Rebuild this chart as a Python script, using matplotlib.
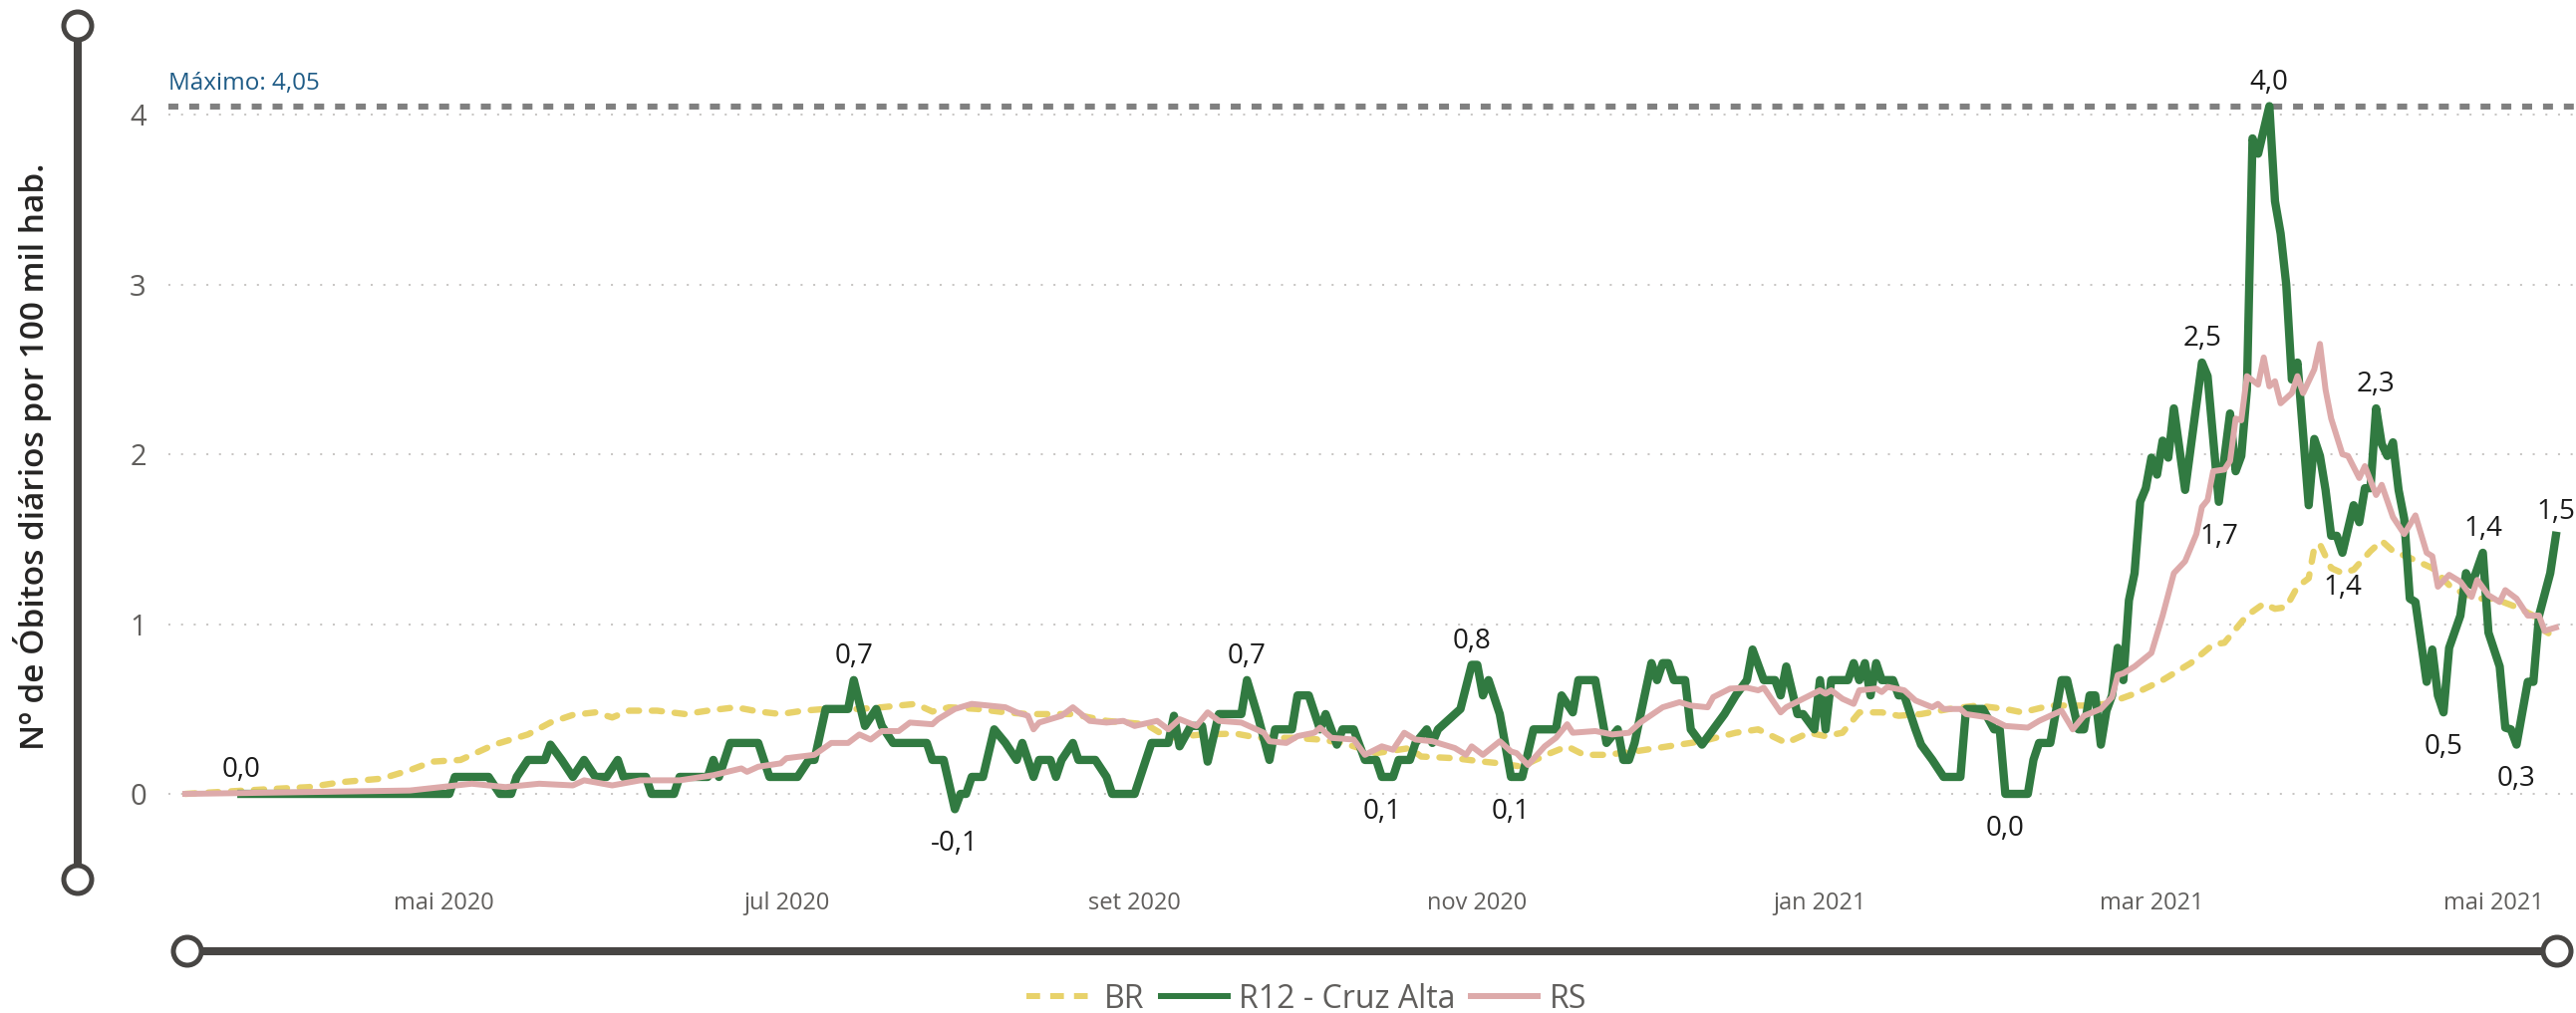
import matplotlib
matplotlib.use("Agg")
import matplotlib.pyplot as plt
import matplotlib.transforms as mtransforms
from matplotlib.patches import Circle
from matplotlib.lines import Line2D
import pandas as pd

plt.rcParams['font.family'] = ['Open Sans', 'DejaVu Sans']

# ---- data ----
tick_dates = ["2020-05-01", "2020-07-01", "2020-09-01", "2020-11-01",
              "2021-01-01", "2021-03-01", "2021-05-01"]
tick_labels = ["mai 2020", "jul 2020", "set 2020", "nov 2020",
               "jan 2021", "mar 2021", "mai 2021"]
y_ticks = [0, 1, 2, 3, 4]

br_dates = [
    "2020-03-16", "2020-04-01", "2020-04-07", "2020-04-13", "2020-04-20", "2020-04-25",
    "2020-04-29", "2020-05-04", "2020-05-10", "2020-05-16", "2020-05-20", "2020-05-24",
    "2020-05-28", "2020-05-31", "2020-06-03", "2020-06-08", "2020-06-13", "2020-06-17",
    "2020-06-22", "2020-06-26", "2020-06-30", "2020-07-04", "2020-07-08", "2020-07-14",
    "2020-07-18", "2020-07-24", "2020-07-27", "2020-07-30", "2020-08-04", "2020-08-09",
    "2020-08-13", "2020-08-21", "2020-08-27", "2020-09-03", "2020-09-07", "2020-09-13",
    "2020-09-19", "2020-09-23", "2020-09-29", "2020-10-04", "2020-10-08", "2020-10-14",
    "2020-10-20", "2020-10-22", "2020-10-28", "2020-11-02", "2020-11-05", "2020-11-09",
    "2020-11-11", "2020-11-14", "2020-11-17", "2020-11-20", "2020-11-24", "2020-11-29",
    "2020-12-05", "2020-12-11", "2020-12-17", "2020-12-21", "2020-12-26", "2020-12-30",
    "2021-01-02", "2021-01-05", "2021-01-08", "2021-01-12", "2021-01-15", "2021-01-19",
    "2021-01-24", "2021-01-29", "2021-02-03", "2021-02-06", "2021-02-11", "2021-02-17",
    "2021-02-21", "2021-02-26", "2021-03-03", "2021-03-08", "2021-03-12", "2021-03-14",
    "2021-03-18", "2021-03-21", "2021-03-23", "2021-03-25", "2021-03-27", "2021-03-29",
    "2021-03-30", "2021-03-31", "2021-04-02", "2021-04-04", "2021-04-06", "2021-04-09",
    "2021-04-11", "2021-04-13", "2021-04-16", "2021-04-20", "2021-04-23", "2021-04-25",
    "2021-04-28", "2021-05-01", "2021-05-05", "2021-05-08", "2021-05-10", "2021-05-12"]
br_vals = [
    0.0, 0.03, 0.04, 0.07, 0.09, 0.14,
    0.19, 0.20, 0.29, 0.35, 0.42, 0.465,
    0.48, 0.45, 0.49, 0.49, 0.47, 0.49,
    0.51, 0.485, 0.47, 0.49, 0.50, 0.50,
    0.51, 0.53, 0.485, 0.51, 0.50, 0.48,
    0.47, 0.47, 0.43, 0.41, 0.33, 0.35,
    0.355, 0.33, 0.33, 0.32, 0.30, 0.24,
    0.27, 0.22, 0.21, 0.19, 0.18, 0.16,
    0.195, 0.24, 0.28, 0.23, 0.23, 0.25,
    0.28, 0.31, 0.36, 0.38, 0.30, 0.36,
    0.34, 0.36, 0.48, 0.48, 0.46, 0.47,
    0.50, 0.52, 0.50, 0.48, 0.52, 0.52,
    0.53, 0.59, 0.67, 0.77, 0.88, 0.89,
    1.05, 1.12, 1.09, 1.10, 1.22, 1.27,
    1.45, 1.47, 1.33, 1.30, 1.32, 1.43,
    1.49, 1.43, 1.39, 1.33, 1.23, 1.19,
    1.15, 1.15, 1.10, 1.05, 0.96, 0.92]

r12_dates = [
    "2020-03-26", "2020-05-02", "2020-05-03", "2020-05-09", "2020-05-11", "2020-05-13",
    "2020-05-14", "2020-05-16", "2020-05-19", "2020-05-20", "2020-05-22", "2020-05-24",
    "2020-05-26", "2020-05-28", "2020-05-30", "2020-06-01", "2020-06-02", "2020-06-06",
    "2020-06-07", "2020-06-11", "2020-06-12", "2020-06-17", "2020-06-18", "2020-06-19",
    "2020-06-20", "2020-06-21", "2020-06-26", "2020-06-27", "2020-06-28", "2020-07-03",
    "2020-07-05", "2020-07-06", "2020-07-08", "2020-07-12", "2020-07-13", "2020-07-15",
    "2020-07-17", "2020-07-18", "2020-07-20", "2020-07-26", "2020-07-27", "2020-07-29",
    "2020-07-31", "2020-08-01", "2020-08-02", "2020-08-03", "2020-08-05", "2020-08-07",
    "2020-08-09", "2020-08-11", "2020-08-12", "2020-08-14", "2020-08-15", "2020-08-17",
    "2020-08-18", "2020-08-19", "2020-08-21", "2020-08-22", "2020-08-25", "2020-08-27",
    "2020-08-28", "2020-09-01", "2020-09-03", "2020-09-04", "2020-09-07", "2020-09-08",
    "2020-09-09", "2020-09-11", "2020-09-13", "2020-09-14", "2020-09-16", "2020-09-20",
    "2020-09-21", "2020-09-23", "2020-09-25", "2020-09-26", "2020-09-29", "2020-09-30",
    "2020-10-02", "2020-10-04", "2020-10-05", "2020-10-07", "2020-10-08", "2020-10-10",
    "2020-10-12", "2020-10-14", "2020-10-15", "2020-10-17", "2020-10-18", "2020-10-20",
    "2020-10-21", "2020-10-23", "2020-10-24", "2020-10-25", "2020-10-28", "2020-10-29",
    "2020-10-31", "2020-11-01", "2020-11-02", "2020-11-03", "2020-11-05", "2020-11-07",
    "2020-11-09", "2020-11-11", "2020-11-15", "2020-11-16", "2020-11-18", "2020-11-19",
    "2020-11-22", "2020-11-24", "2020-11-26", "2020-11-27", "2020-11-28", "2020-11-29",
    "2020-12-02", "2020-12-03", "2020-12-04", "2020-12-05", "2020-12-06", "2020-12-08",
    "2020-12-09", "2020-12-11", "2020-12-13", "2020-12-15", "2020-12-17", "2020-12-19",
    "2020-12-20", "2020-12-22", "2020-12-24", "2020-12-25", "2020-12-26", "2020-12-28",
    "2020-12-29", "2020-12-31", "2021-01-01", "2021-01-02", "2021-01-03", "2021-01-06",
    "2021-01-07", "2021-01-08", "2021-01-09", "2021-01-10", "2021-01-11", "2021-01-12",
    "2021-01-14", "2021-01-15", "2021-01-16", "2021-01-18", "2021-01-19", "2021-01-21",
    "2021-01-23", "2021-01-26", "2021-01-27", "2021-01-30", "2021-02-01", "2021-02-02",
    "2021-02-03", "2021-02-07", "2021-02-08", "2021-02-09", "2021-02-11", "2021-02-13",
    "2021-02-14", "2021-02-16", "2021-02-17", "2021-02-18", "2021-02-19", "2021-02-20",
    "2021-02-21", "2021-02-22", "2021-02-23", "2021-02-24", "2021-02-25", "2021-02-26",
    "2021-02-27", "2021-02-28", "2021-03-01", "2021-03-02", "2021-03-03", "2021-03-04",
    "2021-03-05", "2021-03-07", "2021-03-10", "2021-03-11", "2021-03-13", "2021-03-15",
    "2021-03-16", "2021-03-17", "2021-03-18", "2021-03-19", "2021-03-20", "2021-03-22",
    "2021-03-23", "2021-03-24", "2021-03-25", "2021-03-26", "2021-03-27", "2021-03-29",
    "2021-03-30", "2021-03-31", "2021-04-01", "2021-04-02", "2021-04-03", "2021-04-04",
    "2021-04-06", "2021-04-07", "2021-04-08", "2021-04-09", "2021-04-10", "2021-04-11",
    "2021-04-12", "2021-04-13", "2021-04-14", "2021-04-15", "2021-04-16", "2021-04-17",
    "2021-04-19", "2021-04-20", "2021-04-21", "2021-04-22", "2021-04-23", "2021-04-25",
    "2021-04-26", "2021-04-27", "2021-04-29", "2021-04-30", "2021-05-02", "2021-05-03",
    "2021-05-04", "2021-05-05", "2021-05-07", "2021-05-08", "2021-05-09", "2021-05-11",
    "2021-05-12"]
r12_vals = [
    0.0, 0.0, 0.1, 0.1, 0.0, 0.0,
    0.1, 0.2, 0.2, 0.29, 0.2, 0.1,
    0.2, 0.1, 0.1, 0.2, 0.1, 0.1,
    0.0, 0.0, 0.1, 0.1, 0.2, 0.1,
    0.2, 0.3, 0.3, 0.2, 0.1, 0.1,
    0.2, 0.2, 0.5, 0.5, 0.67, 0.4,
    0.5, 0.4, 0.3, 0.3, 0.2, 0.2,
    -0.09, 0.0, 0.0, 0.1, 0.1, 0.38,
    0.3, 0.2, 0.3, 0.1, 0.2, 0.2,
    0.1, 0.2, 0.3, 0.2, 0.2, 0.1,
    0.0, 0.0, 0.2, 0.3, 0.3, 0.46,
    0.28, 0.4, 0.4, 0.19, 0.47, 0.47,
    0.67, 0.45, 0.2, 0.38, 0.38, 0.58,
    0.58, 0.38, 0.47, 0.29, 0.38, 0.38,
    0.2, 0.2, 0.1, 0.1, 0.2, 0.2,
    0.3, 0.38, 0.3, 0.38, 0.47, 0.5,
    0.76, 0.76, 0.58, 0.67, 0.47, 0.1,
    0.1, 0.38, 0.38, 0.58, 0.48, 0.67,
    0.67, 0.3, 0.38, 0.2, 0.2, 0.3,
    0.77, 0.67, 0.77, 0.77, 0.67, 0.67,
    0.38, 0.29, 0.38, 0.47, 0.58, 0.67,
    0.85, 0.67, 0.67, 0.58, 0.75, 0.47,
    0.47, 0.38, 0.67, 0.38, 0.67, 0.67,
    0.77, 0.67, 0.77, 0.58, 0.77, 0.67,
    0.67, 0.58, 0.58, 0.38, 0.29, 0.2,
    0.1, 0.1, 0.5, 0.5, 0.38, 0.38,
    0.0, 0.0, 0.2, 0.3, 0.3, 0.67,
    0.67, 0.38, 0.38, 0.58, 0.58, 0.29,
    0.49, 0.58, 0.86, 0.67, 1.14, 1.30,
    1.72, 1.80, 1.98, 1.88, 2.08, 1.98,
    2.27, 1.79, 2.54, 2.46, 1.72, 2.24,
    1.90, 1.99, 2.38, 3.86, 3.77, 4.05,
    3.49, 3.30, 3.00, 2.44, 2.54, 1.70,
    2.09, 1.99, 1.79, 1.52, 1.52, 1.42,
    1.70, 1.60, 1.80, 1.80, 2.27, 2.06,
    1.99, 2.07, 1.79, 1.62, 1.15, 1.13,
    0.66, 0.85, 0.58, 0.48, 0.86, 1.05,
    1.30, 1.23, 1.42, 0.95, 0.75, 0.39,
    0.38, 0.29, 0.66, 0.66, 1.05, 1.30,
    1.52]

rs_dates = [
    "2020-03-16", "2020-04-25", "2020-05-06", "2020-05-12", "2020-05-18", "2020-05-24",
    "2020-05-26", "2020-05-31", "2020-06-05", "2020-06-12", "2020-06-18", "2020-06-23",
    "2020-06-24", "2020-06-26", "2020-06-30", "2020-07-01", "2020-07-06", "2020-07-09",
    "2020-07-12", "2020-07-14", "2020-07-16", "2020-07-18", "2020-07-21", "2020-07-23",
    "2020-07-27", "2020-07-28", "2020-07-31", "2020-08-03", "2020-08-06", "2020-08-09",
    "2020-08-11", "2020-08-13", "2020-08-14", "2020-08-15", "2020-08-19", "2020-08-21",
    "2020-08-24", "2020-08-27", "2020-08-30", "2020-09-01", "2020-09-05", "2020-09-07",
    "2020-09-09", "2020-09-12", "2020-09-14", "2020-09-16", "2020-09-20", "2020-09-24",
    "2020-09-25", "2020-09-28", "2020-09-30", "2020-10-03", "2020-10-04", "2020-10-06",
    "2020-10-10", "2020-10-12", "2020-10-15", "2020-10-17", "2020-10-19", "2020-10-21",
    "2020-10-24", "2020-10-28", "2020-10-30", "2020-10-31", "2020-11-02", "2020-11-05",
    "2020-11-07", "2020-11-08", "2020-11-10", "2020-11-13", "2020-11-15", "2020-11-17",
    "2020-11-18", "2020-11-22", "2020-11-25", "2020-11-28", "2020-11-30", "2020-12-04",
    "2020-12-07", "2020-12-09", "2020-12-12", "2020-12-13", "2020-12-16", "2020-12-19",
    "2020-12-21", "2020-12-22", "2020-12-25", "2020-12-26", "2020-12-29", "2021-01-01",
    "2021-01-02", "2021-01-03", "2021-01-05", "2021-01-07", "2021-01-08", "2021-01-11",
    "2021-01-12", "2021-01-13", "2021-01-16", "2021-01-18", "2021-01-21", "2021-01-22",
    "2021-01-23", "2021-01-26", "2021-01-27", "2021-01-31", "2021-02-03", "2021-02-07",
    "2021-02-09", "2021-02-11", "2021-02-13", "2021-02-15", "2021-02-17", "2021-02-20",
    "2021-02-22", "2021-02-23", "2021-02-24", "2021-02-26", "2021-03-01", "2021-03-03",
    "2021-03-05", "2021-03-07", "2021-03-09", "2021-03-10", "2021-03-11", "2021-03-12",
    "2021-03-14", "2021-03-15", "2021-03-16", "2021-03-17", "2021-03-18", "2021-03-20",
    "2021-03-21", "2021-03-22", "2021-03-23", "2021-03-24", "2021-03-26", "2021-03-27",
    "2021-03-28", "2021-03-30", "2021-03-31", "2021-04-01", "2021-04-02", "2021-04-04",
    "2021-04-05", "2021-04-07", "2021-04-08", "2021-04-10", "2021-04-11", "2021-04-13",
    "2021-04-15", "2021-04-17", "2021-04-19", "2021-04-20", "2021-04-21", "2021-04-23",
    "2021-04-25", "2021-04-27", "2021-04-28", "2021-04-30", "2021-05-02", "2021-05-03",
    "2021-05-05", "2021-05-07", "2021-05-09", "2021-05-10", "2021-05-12"]
rs_vals = [
    0.0, 0.02, 0.06, 0.04, 0.06, 0.05,
    0.08, 0.05, 0.08, 0.08, 0.11, 0.15,
    0.13, 0.16, 0.18, 0.21, 0.23, 0.30,
    0.30, 0.35, 0.32, 0.37, 0.37, 0.42,
    0.41, 0.44, 0.50, 0.53, 0.52, 0.51,
    0.48, 0.46, 0.38, 0.42, 0.46, 0.51,
    0.43, 0.42, 0.43, 0.40, 0.43, 0.38,
    0.44, 0.40, 0.48, 0.43, 0.42, 0.36,
    0.31, 0.30, 0.34, 0.36, 0.39, 0.33,
    0.32, 0.23, 0.28, 0.26, 0.36, 0.32,
    0.31, 0.27, 0.23, 0.28, 0.23, 0.31,
    0.25, 0.24, 0.17, 0.28, 0.33, 0.41,
    0.36, 0.37, 0.35, 0.36, 0.42, 0.51,
    0.54, 0.52, 0.51, 0.57, 0.62, 0.625,
    0.61, 0.625, 0.48, 0.51, 0.56, 0.61,
    0.59, 0.61, 0.56, 0.53, 0.61, 0.62,
    0.60, 0.63, 0.61, 0.55, 0.51, 0.53,
    0.50, 0.50, 0.47, 0.45, 0.40, 0.39,
    0.43, 0.46, 0.49, 0.38, 0.46, 0.50,
    0.57, 0.70, 0.71, 0.75, 0.83, 1.05,
    1.30, 1.37, 1.53, 1.69, 1.73, 1.90,
    1.91, 1.96, 2.21, 2.20, 2.46, 2.41,
    2.57, 2.40, 2.43, 2.30, 2.36, 2.46,
    2.36, 2.50, 2.65, 2.38, 2.21, 2.00,
    1.99, 1.86, 1.93, 1.76, 1.82, 1.63,
    1.53, 1.64, 1.42, 1.40, 1.22, 1.29,
    1.25, 1.16, 1.26, 1.17, 1.13, 1.20,
    1.15, 1.05, 1.05, 0.96, 0.98]

# data labels shown on the R12 line (a = above, b = below)
label_dates = ["2020-03-26", "2020-07-13", "2020-07-31", "2020-09-21", "2020-10-15",
               "2020-10-31", "2020-11-07", "2021-02-03", "2021-03-10", "2021-03-13",
               "2021-03-22", "2021-04-04", "2021-04-10", "2021-04-22", "2021-04-29",
               "2021-05-05", "2021-05-12"]
label_pos = ["a", "a", "b", "a", "b",
             "a", "b", "b", "a", "b",
             "a", "b", "a", "b", "a",
             "b", "a"]

series_names = ["BR", "R12 - Cruz Alta", "RS"]

BR_COLOR = "#E8D26A"
R12_COLOR = "#317A41"
RS_COLOR = "#DDAAAA"
SLIDER = "#474543"
GRAY_TXT = "#605E5C"

W, H = 2585, 1017
fig = plt.figure(figsize=(W / 100, H / 100), dpi=100)
ax = fig.add_axes([169 / W, 147 / H, (W - 169) / W, 810 / H])
ax.patch.set_alpha(0)

br_x = pd.to_datetime(br_dates)
r12_x = pd.to_datetime(r12_dates)
rs_x = pd.to_datetime(rs_dates)

ax.plot(br_x, br_vals, color=BR_COLOR, lw=4.6, dashes=(1.6, 2.0),
        dash_capstyle="round", zorder=2)
ax.plot(r12_x, r12_vals, color=R12_COLOR, lw=6.0, zorder=3)
ax.plot(rs_x, rs_vals, color=RS_COLOR, lw=4.3, zorder=4)

# max reference line
max_val = max(r12_vals)
ax.axhline(max_val, color="#808080", lw=4.3, linestyle=(0, (1.67, 1.83)), zorder=1.5)
trans = mtransforms.blended_transform_factory(ax.transAxes, ax.transData)
ax.annotate(f"Máximo: {max_val:.2f}".replace(".", ","), xy=(0, max_val), xycoords=trans,
            xytext=(0, 12), textcoords="offset points", ha="left", va="baseline",
            fontsize=17.5, color="#1E5B86")

# data labels
lookup = dict(zip(r12_dates, r12_vals))
for d, p in zip(label_dates, label_pos):
    v = lookup[d]
    off = 17 if p == "a" else -25
    ax.annotate(f"{v:.1f}".replace(".", ","), xy=(pd.Timestamp(d), v),
                xytext=(0, off), textcoords="offset points", ha="center", va="center",
                fontsize=20, color="#1A1A1A", zorder=6, annotation_clip=False)

ax.set_xlim(pd.Timestamp("2020-03-13"), pd.Timestamp("2021-05-15 14:00"))
ax.set_ylim(-0.428, 4.323)
ax.set_xticks(pd.to_datetime(tick_dates))
ax.set_xticklabels(tick_labels)
ax.set_yticks(y_ticks)
ax.set_yticklabels([str(t) for t in y_ticks])
ax.tick_params(axis="x", length=0, pad=18, labelsize=17, labelcolor=GRAY_TXT)
ax.tick_params(axis="y", length=0, pad=16, labelsize=21, labelcolor=GRAY_TXT)
ax.yaxis.grid(True, linestyle=(0, (1, 5.3)), lw=1.45, color="#C8C6C4")
ax.xaxis.grid(False)
ax.set_axisbelow(True)
for s in ax.spines.values():
    s.set_visible(False)

# y axis title
fig.text(33 / W, 1 - 458 / H, "Nº de Óbitos diários por 100 mil hab.", rotation=90,
         ha="center", va="center", fontsize=24, fontweight="semibold", color="#252423")

# slider decorations (pixel overlay)
ov = fig.add_axes([0, 0, 1, 1])
ov.set_xlim(0, W)
ov.set_ylim(H, 0)
ov.axis("off")
ov.patch.set_alpha(0)
ov.plot([78, 78], [26, 883], color=SLIDER, lw=5.8, solid_capstyle="butt", zorder=1)
ov.plot([188, 2566], [955, 955], color=SLIDER, lw=5.8, solid_capstyle="butt", zorder=1)
for cx, cy in [(78, 26), (78, 883), (188, 955), (2566, 955)]:
    ov.add_patch(Circle((cx, cy), 14, facecolor="white", edgecolor=SLIDER, lw=3.6, zorder=2))

# legend
handles = [
    Line2D([], [], color=BR_COLOR, lw=4.3, dashes=(2.3, 1.7), dash_capstyle="butt"),
    Line2D([], [], color=R12_COLOR, lw=4.3),
    Line2D([], [], color=RS_COLOR, lw=4.3),
]
fig.legend(handles, series_names, loc="center", bbox_to_anchor=(1311 / W, 1 - 1003 / H),
           ncol=3, frameon=False, fontsize=23, handlelength=2.1, handletextpad=0.35,
           columnspacing=0.5, labelcolor=GRAY_TXT)

fig.savefig("out.png", dpi=100)
